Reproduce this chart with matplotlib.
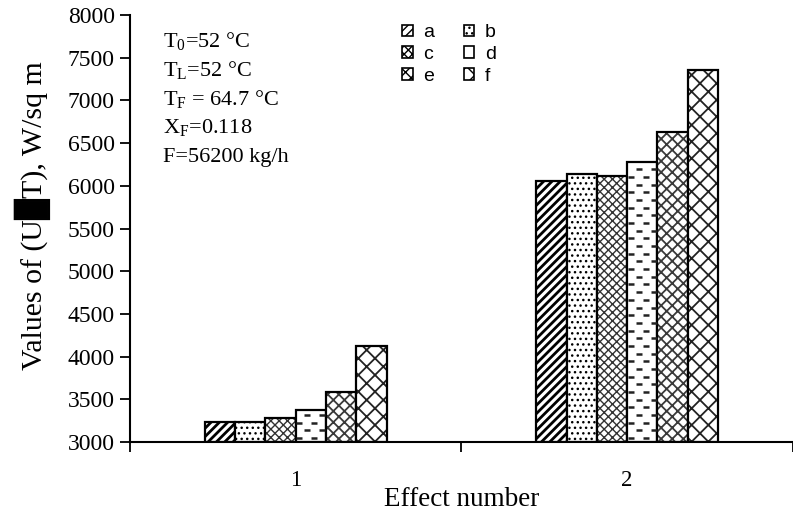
import matplotlib
matplotlib.use("Agg")
import matplotlib.pyplot as plt
import matplotlib.patches as mpatches
import numpy as np

plt.rcParams['font.family'] = ['Liberation Serif', 'DejaVu Sans']
plt.rcParams['mathtext.fontset'] = 'custom'
plt.rcParams['mathtext.rm'] = 'Liberation Serif'

# U*dT per effect for the six cases a..f
effects = [1, 2]
cases = ['a', 'b', 'c', 'd', 'e', 'f']
vals_a = [3240, 6060]
vals_b = [3240, 6140]
vals_c = [3285, 6120]
vals_d = [3370, 6275]
vals_e = [3585, 6635]
vals_f = [4120, 7355]
series = [vals_a, vals_b, vals_c, vals_d, vals_e, vals_f]

hatches = ['////', '...', 'xxxx', '', 'xxx', 'xx']
hatch_cols = ['k', 'k', '#333333', 'k', '#3a3a3a', '#222222']
hatch_lw = [2.0, 1.0, 1.0, 1.0, 1.3, 1.3]

base = 3000
w = 0.0913

fig = plt.figure(figsize=(7.93, 5.15), dpi=100)
ax = fig.add_axes([0.1639, 0.1417, 0.836, 0.8292])

x = np.array(effects, dtype=float)
handles = []
for i, (name, v) in enumerate(zip(cases, series)):
    pos = x + (i - 2.5) * w
    heights = np.array(v) - base
    with plt.rc_context({'hatch.linewidth': hatch_lw[i]}):
        # hatch first in its own colour, then a black outline on top
        ax.bar(pos, heights, w, bottom=base, color='white',
               edgecolor=hatch_cols[i], hatch=hatches[i], linewidth=0)
        handles.append(mpatches.Patch(facecolor='white', edgecolor='k',
                                      hatch=hatches[i] if hatches[i] else '-',
                                      linewidth=1.2))
    bars = ax.bar(pos, heights, w, bottom=base, fill=False, edgecolor='k',
                  linewidth=1.6)
    if name == 'd':
        # staggered short dashes inside the bars
        for b in bars:
            x0, y0 = b.get_x(), b.get_y()
            bw, bh = b.get_width(), b.get_height()
            ys = np.arange(y0 + 45, y0 + bh - 40, 90)
            for k, yy in enumerate(ys):
                off = 0.12 if k % 2 == 0 else 0.38
                xs = x0 + bw * np.array([off, off + 0.5])
                ln, = ax.plot(xs, [yy, yy], ls='none', marker='_', ms=5,
                              mew=1.8, color='#222222')
                ln.set_clip_path(b)

ax.set_ylim(3000, 8000)
ax.set_xlim(0.5, 0.5 + 663 / 334)
ax.set_yticks(np.arange(3000, 8001, 500))
ax.set_xticks(effects)
ax.set_xticks([0.5, 1.5, 2.5], minor=True)
ax.tick_params(axis='x', which='major', length=0, pad=20, labelsize=16.5)
ax.tick_params(axis='x', which='minor', length=7, width=1.3, direction='out')
ax.tick_params(axis='y', length=7, width=1.3, labelsize=17, pad=4)
for s in ['top', 'right']:
    ax.spines[s].set_visible(False)
for s in ['left', 'bottom']:
    ax.spines[s].set_linewidth(1.5)

ax.set_xlabel('Effect number', fontsize=19.5, labelpad=-3)
ax.set_ylabel('Values of (U\u2588T), W/sq m', fontsize=21.5, labelpad=12)
ax.yaxis.label.set_y(0.53)

notes = [r'T$_\mathregular{0}$=52 °C', r'T$_\mathregular{L}$=52 °C',
         r'T$_\mathregular{F}$ = 64.7 °C', r'X$_\mathregular{F}$=0.118',
         'F=56200 kg/h']
for k, t in enumerate(notes):
    ax.text(0.05, 0.937 - k * 0.0675, t, transform=ax.transAxes, fontsize=16,
            va='center', ha='left')

order = [0, 2, 4, 1, 3, 5]
ax.legend([handles[i] for i in order], [cases[i] for i in order], ncol=2,
          loc='upper left', bbox_to_anchor=(0.39, 1.01), frameon=False,
          prop={'family': 'Liberation Sans', 'size': 14},
          handlelength=0.55, handleheight=0.55, handletextpad=0.55,
          columnspacing=1.5, labelspacing=0.25, borderpad=0.2)

fig.savefig('out.png', dpi=100)
